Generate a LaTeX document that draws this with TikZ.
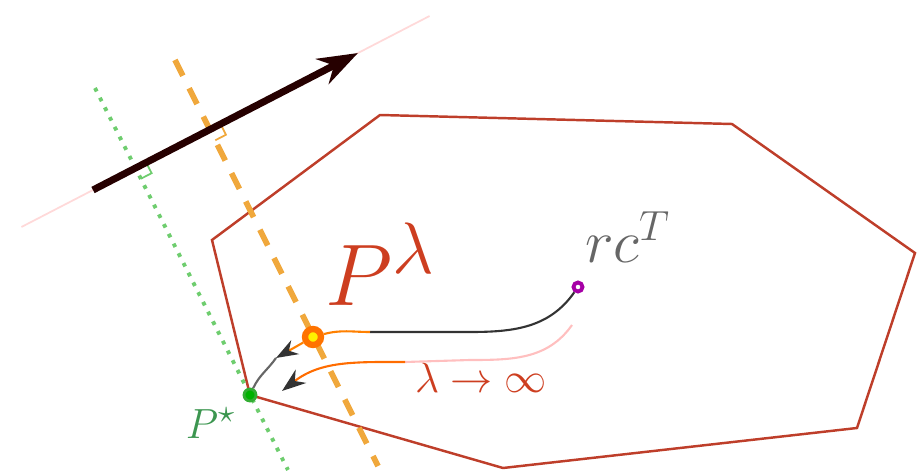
\documentclass[tikz,border=0pt]{standalone}
\usepackage{amsmath}
\usepackage{amssymb}
\usepackage{tikz}
\usetikzlibrary{arrows.meta, positioning, calc}

\definecolor{polyred}{RGB}{190,62,42}
\definecolor{lamred}{RGB}{205,62,32}
\definecolor{stargreen}{RGB}{60,150,80}
\definecolor{dashorange}{RGB}{240,168,60}
\definecolor{dotgreen}{RGB}{110,205,110}

\begin{document}
\begin{tikzpicture}[
    >=Stealth,
    poly/.style={draw=polyred, line width=0.7pt},
    heading/.style={line width=2pt, draw=black!85!red, -{Stealth[length=4mm, width=2.8mm]}},
    support/.style={draw=red!15, line width=0.5pt},
    perpg/.style={draw=dotgreen, dotted, line width=1.1pt},
    perpo/.style={draw=dashorange, dashed, line width=1.6pt, dash pattern=on 5pt off 4pt},
    dotg/.style={circle, inner sep=0pt, minimum size=0.12cm, fill=green!70!black, draw=green!60!black!80, line width=0.8pt},
    doto/.style={circle, inner sep=0pt, minimum size=0.16cm, fill=yellow, draw=orange!90!red, line width=1.8pt},
    dotp/.style={circle, inner sep=0pt, minimum size=0.09cm, fill=white, draw=violet!70!magenta, line width=1.1pt},
    trace/.style={line width=0.6pt},
]
\useasboundingbox (0,0) rectangle (9.17,4.70);
% === Feasible polygon ===
\draw[poly] (3.80,3.55) -- (7.32,3.46) -- (9.15,2.17) -- (8.57,0.42)
    -- (5.03,0.02) -- (2.50,0.75) -- (2.12,2.30) -- cycle;
% === Cost direction and its perpendiculars ===
\coordinate (tail) at (0.93,2.80);
\coordinate (head) at (3.58,4.17);
\draw[support] ($(tail)!-0.27!(head)$) -- ($(head)!-0.27!(tail)$);
\coordinate (gtop) at (0.95,3.82);
\coordinate (gbot) at (2.88,0.00);
\coordinate (otop) at (1.75,4.10);
\coordinate (obot) at (3.78,0.04);
\draw[perpg] (gtop) -- (gbot);
\draw[perpo] (otop) -- (obot);
\coordinate (ig) at (intersection of tail--head and gtop--gbot);
\coordinate (io) at (intersection of tail--head and otop--obot);
\draw[dotgreen, line width=0.5pt, shift={(ig)}, rotate=27.3] (0.12,0) -- (0.12,-0.12) -- (0,-0.12);
\draw[dashorange, line width=0.5pt, shift={(io)}, rotate=27.3] (0.12,0) -- (0.12,-0.12) -- (0,-0.12);
\draw[heading] (tail) -- (head);
% === Points ===
\node[dotg] (pstar) at (2.50,0.75) {};
\node[doto] (plam) at (3.13,1.33) {};
\node[dotp] (rc) at (5.78,1.83) {};
% === Central path ===
\coordinate (bend) at (4.70,1.38);
\coordinate (oj) at (3.70,1.38);
\coordinate (mid) at (2.76,1.12);
\draw[trace, black!80] (rc) to[out=235, in=0] (bend) -- (oj);
\draw[trace, orange] (oj) to[out=180, in=15] (plam);
\draw[trace, orange, -{Stealth[black!80, length=2.2mm, width=1.6mm]}] (plam) -- (mid);
\draw[trace, black!60] (mid) to[out=235, in=65] (pstar);
% === Limit path ===
\coordinate (lstart) at (5.72,1.45);
\coordinate (lbend) at (4.05,1.08);
\coordinate (lend) at (2.82,0.79);
\draw[trace, red!25] (lstart) to[out=235, in=0] (4.70,1.10) -- (lbend);
\draw[trace, orange!85!red, -{Stealth[black!80, length=2.4mm, width=1.7mm]}] (lbend) to[out=180, in=38] (lend);
% === Labels ===
\node[text=lamred, font=\fontsize{28}{34}\selectfont] (lablam) at (3.81,2.06) {$P^{\lambda}$};
\node[text=black!60, font=\fontsize{18}{22}\selectfont] (labrc) at (6.28,2.33) {$rc^{T}$};
\node[text=stargreen, font=\fontsize{12.5}{15}\selectfont] (labstar) at (2.11,0.47) {$P^{\star}$};
\node[text=lamred, font=\fontsize{13}{16}\selectfont] (lablim) at (4.81,0.92) {$\lambda \to \infty$};
\end{tikzpicture}
\end{document}
